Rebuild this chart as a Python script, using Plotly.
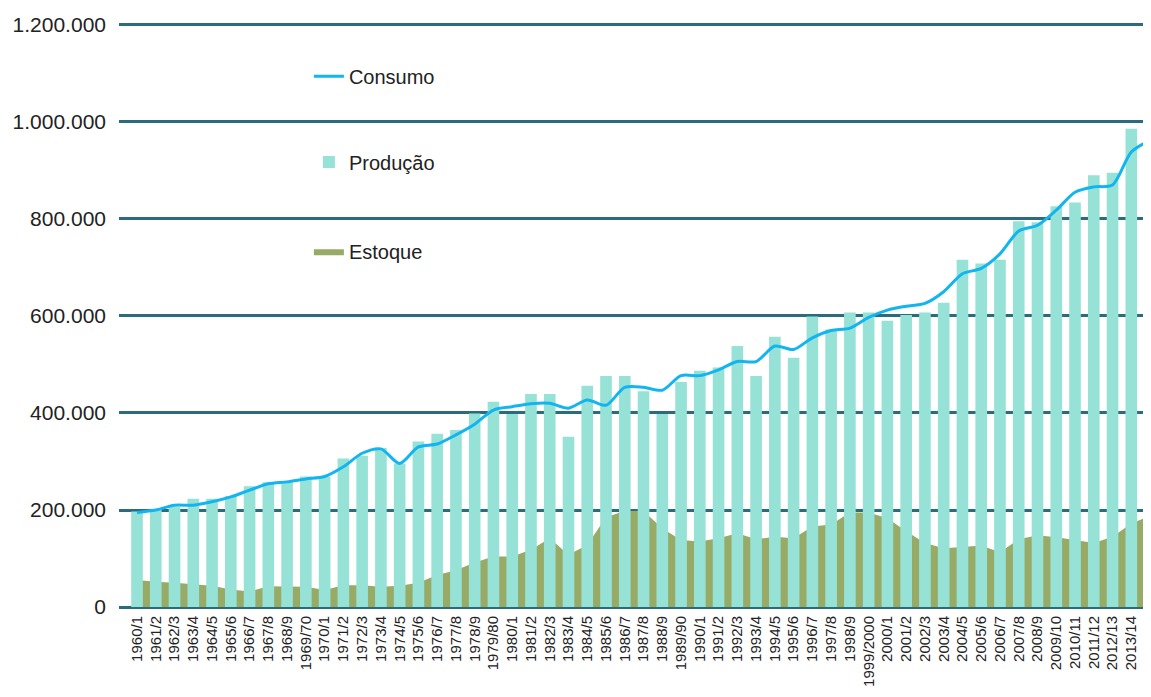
import plotly.graph_objects as go

safras = ["1960/1", "1961/2", "1962/3", "1963/4", "1964/5", "1965/6", "1966/7", "1967/8", "1968/9", "1969/70",
          "1970/1", "1971/2", "1972/3", "1973/4", "1974/5", "1975/6", "1976/7", "1977/8", "1978/9", "1979/80",
          "1980/1", "1981/2", "1982/3", "1983/4", "1984/5", "1985/6", "1986/7", "1987/8", "1988/9", "1989/90",
          "1990/1", "1991/2", "1992/3", "1993/4", "1994/5", "1995/6", "1996/7", "1997/8", "1998/9", "1999/2000",
          "2000/1", "2001/2", "2002/3", "2003/4", "2004/5", "2005/6", "2006/7", "2007/8", "2008/9", "2009/10",
          "2010/11", "2011/12", "2012/13", "2013/14", "2014/15"]

producao = [197000, 201000, 207000, 223000, 223000, 229000, 249000, 257000, 258000, 269000,
            269000, 306000, 312000, 328000, 296000, 341000, 357000, 365000, 399000, 423000,
            398000, 439000, 439000, 351000, 456000, 476000, 476000, 445000, 398000, 464000,
            487000, 494000, 538000, 476000, 557000, 514000, 599000, 572000, 607000, 607000,
            590000, 602000, 607000, 627000, 716000, 708000, 716000, 795000, 793000, 826000,
            834000, 890000, 895000, 986000, 977000]

consumo = [195000, 200000, 210000, 210000, 217000, 227000, 241000, 254000, 258000, 264000,
           269000, 289000, 317000, 326000, 296000, 330000, 336000, 355000, 377000, 406000,
           413000, 419000, 420000, 410000, 427000, 416000, 453000, 453000, 447000, 477000,
           477000, 489000, 506000, 506000, 538000, 531000, 555000, 570000, 575000, 597000,
           612000, 620000, 626000, 650000, 687000, 698000, 728000, 775000, 787000, 818000,
           855000, 866000, 870000, 938000, 962000]

estoque = [56000, 52000, 50000, 47000, 44000, 36000, 32000, 43000, 43000, 42000,
           35000, 45000, 45000, 42000, 44000, 50000, 66000, 76000, 92000, 104000,
           104000, 118000, 142000, 108000, 128000, 185000, 198000, 198000, 162000, 138000,
           135000, 142000, 152000, 140000, 145000, 142000, 166000, 170000, 195000, 195000,
           183000, 156000, 132000, 121000, 124000, 127000, 113000, 140000, 148000, 144000,
           138000, 132000, 145000, 172000, 188000]

y_ticks = [0, 200000, 400000, 600000, 800000, 1000000, 1200000]

GRID = "#2b6c7c"
TXT = "#222222"
FONT = "Liberation Sans"

fig = go.Figure()

fig.add_trace(go.Scatter(
    x=safras, y=estoque, name="Estoque", mode="lines",
    fill="tozeroy", fillcolor="#97ab67", line=dict(color="#97ab67", width=0),
    xaxis="x", yaxis="y", legend="legend3"))

fig.add_trace(go.Bar(
    x=safras, y=producao, name="Produção", marker=dict(color="#97e2d6", line=dict(width=0)),
    xaxis="x2", yaxis="y2", legend="legend2"))

fig.add_trace(go.Scatter(
    x=safras, y=consumo, name="Consumo", mode="lines",
    line=dict(color="#12b5ef", width=3, shape="spline", smoothing=0.8),
    xaxis="x2", yaxis="y2", legend="legend"))

yr = [-4000, 1210000]
xr = [-0.96, 54.05]

legend_common = dict(font=dict(family=FONT, size=20, color=TXT), bgcolor="rgba(0,0,0,0)",
                     xanchor="left", yanchor="middle", itemwidth=30)

fig.update_layout(
    width=1143, height=689,
    margin=dict(l=111, r=0, t=12, b=88, autoexpand=False),
    paper_bgcolor="white", plot_bgcolor="white",
    separators=",.",
    bargap=0.38,
    showlegend=True,
    xaxis=dict(type="category", categoryorder="array", categoryarray=safras, range=xr,
               tickangle=-90, tickfont=dict(family=FONT, size=15, color=TXT),
               showgrid=False, showline=False, zeroline=False, ticks="",
               ticklabelstandoff=3, automargin=False),
    xaxis2=dict(type="category", categoryorder="array", categoryarray=safras, range=xr,
                overlaying="x", showticklabels=False, showgrid=False, zeroline=False, showline=False),
    yaxis=dict(range=yr, tickvals=y_ticks, tickformat=",d",
               tickfont=dict(family=FONT, size=21, color=TXT),
               showgrid=True, gridcolor=GRID, gridwidth=2.5,
               zeroline=True, zerolinecolor=GRID, zerolinewidth=2.5,
               showline=False, ticks="", ticklabelstandoff=12, automargin=False),
    yaxis2=dict(range=yr, overlaying="y", showticklabels=False, showgrid=False,
                zeroline=False, showline=False),
    legend=dict(x=0.184, y=0.9044, **legend_common),
    legend2=dict(x=0.184, y=0.759, **legend_common),
    legend3=dict(x=0.184, y=0.6075, **legend_common),
)

fig.write_html("out.html")
